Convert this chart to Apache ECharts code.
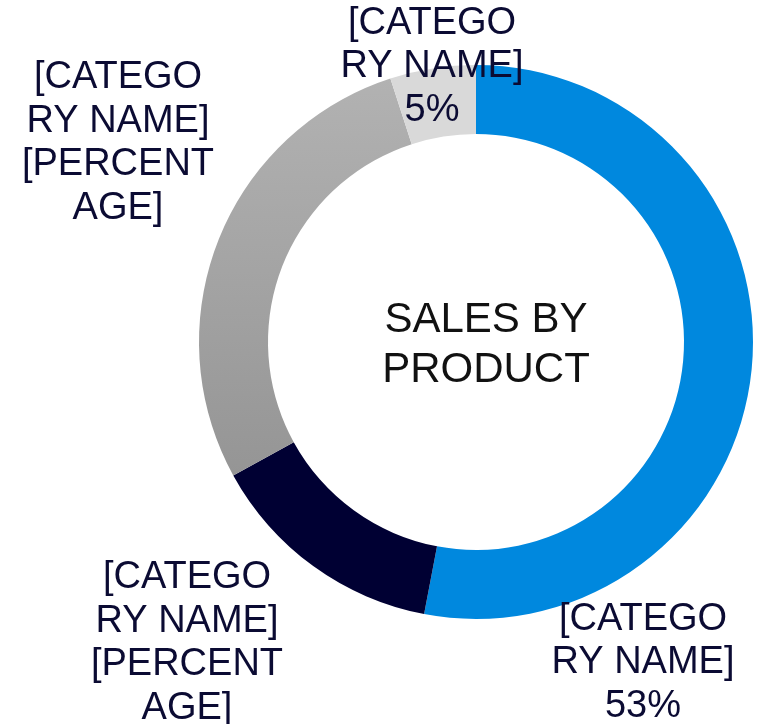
<!DOCTYPE html>
<html>
<head>
<meta charset="utf-8">
<script src="https://cdn.jsdelivr.net/npm/echarts@6/dist/echarts.min.js"></script>
<style>
html, body { margin: 0; padding: 0; background: #fff; }
#chart { width: 767px; height: 724px; }
</style>
</head>
<body>
<div id="chart"></div>
<script>
var categories = ['[CATEGORY NAME]', '[CATEGORY NAME]', '[CATEGORY NAME]', '[CATEGORY NAME]'];
var values = [53, 14, 28, 5];
var labelTexts = [
  '[CATEGO\nRY NAME]\n53%',
  '[CATEGO\nRY NAME]\n[PERCENT\nAGE]',
  '[CATEGO\nRY NAME]\n[PERCENT\nAGE]',
  '[CATEGO\nRY NAME]\n5%'
];

window.onload =
    function() {
  drawChart();
}

function
drawChart() {
  var chart = echarts.init(document.getElementById('chart'));
  var colors = [
    '#0088de',
    '#000033',
    new echarts.graphic.LinearGradient(0, 0, 0, 1, [
      {offset: 0, color: '#b2b2b2'},
      {offset: 1, color: '#959595'}
    ]),
    '#d9d9d9'
  ];
  // label spots
  var labelSpots = [[643, 663], [187, 643], [118, 143], [432, 67]];
  var data = values.map(function(v, i) {
    return {name: categories[i], value: v, itemStyle: {color: colors[i]}};
  });
  var option = {
    animation: false,
    graphic: [{
      type: 'text',
      x: 486,
      y: 345,
      style: {
        text: 'SALES BY\nPRODUCT',
        font: '42px "Liberation Sans", Arial, sans-serif',
        fill: '#111111',
        align: 'center',
        verticalAlign: 'middle',
        lineHeight: 50
      }
    }],
    series: [{
      type: 'pie',
      center: [476, 342],
      radius: [208, 277],
      startAngle: 90,
      avoidLabelOverlap: false,
      data: data,
      itemStyle: {borderWidth: 0},
      emphasis: {disabled: true},
      label: {
        show: true,
        position: 'outside',
        formatter: function(p) { return labelTexts[p.dataIndex]; },
        fontFamily: '"Liberation Sans", Arial, sans-serif',
        fontSize: 38,
        lineHeight: 43.5,
        color: '#0b0b33',
        align: 'center'
      },
      labelLine: {show: false},
      labelLayout: function(p) {
        var s = labelSpots[p.dataIndex];
        return {x: s[0], y: s[1], align: 'center', verticalAlign: 'middle', hideOverlap: false};
      }
    }]
  };
  chart.setOption(option);
}
</script>
</body>
</html>
